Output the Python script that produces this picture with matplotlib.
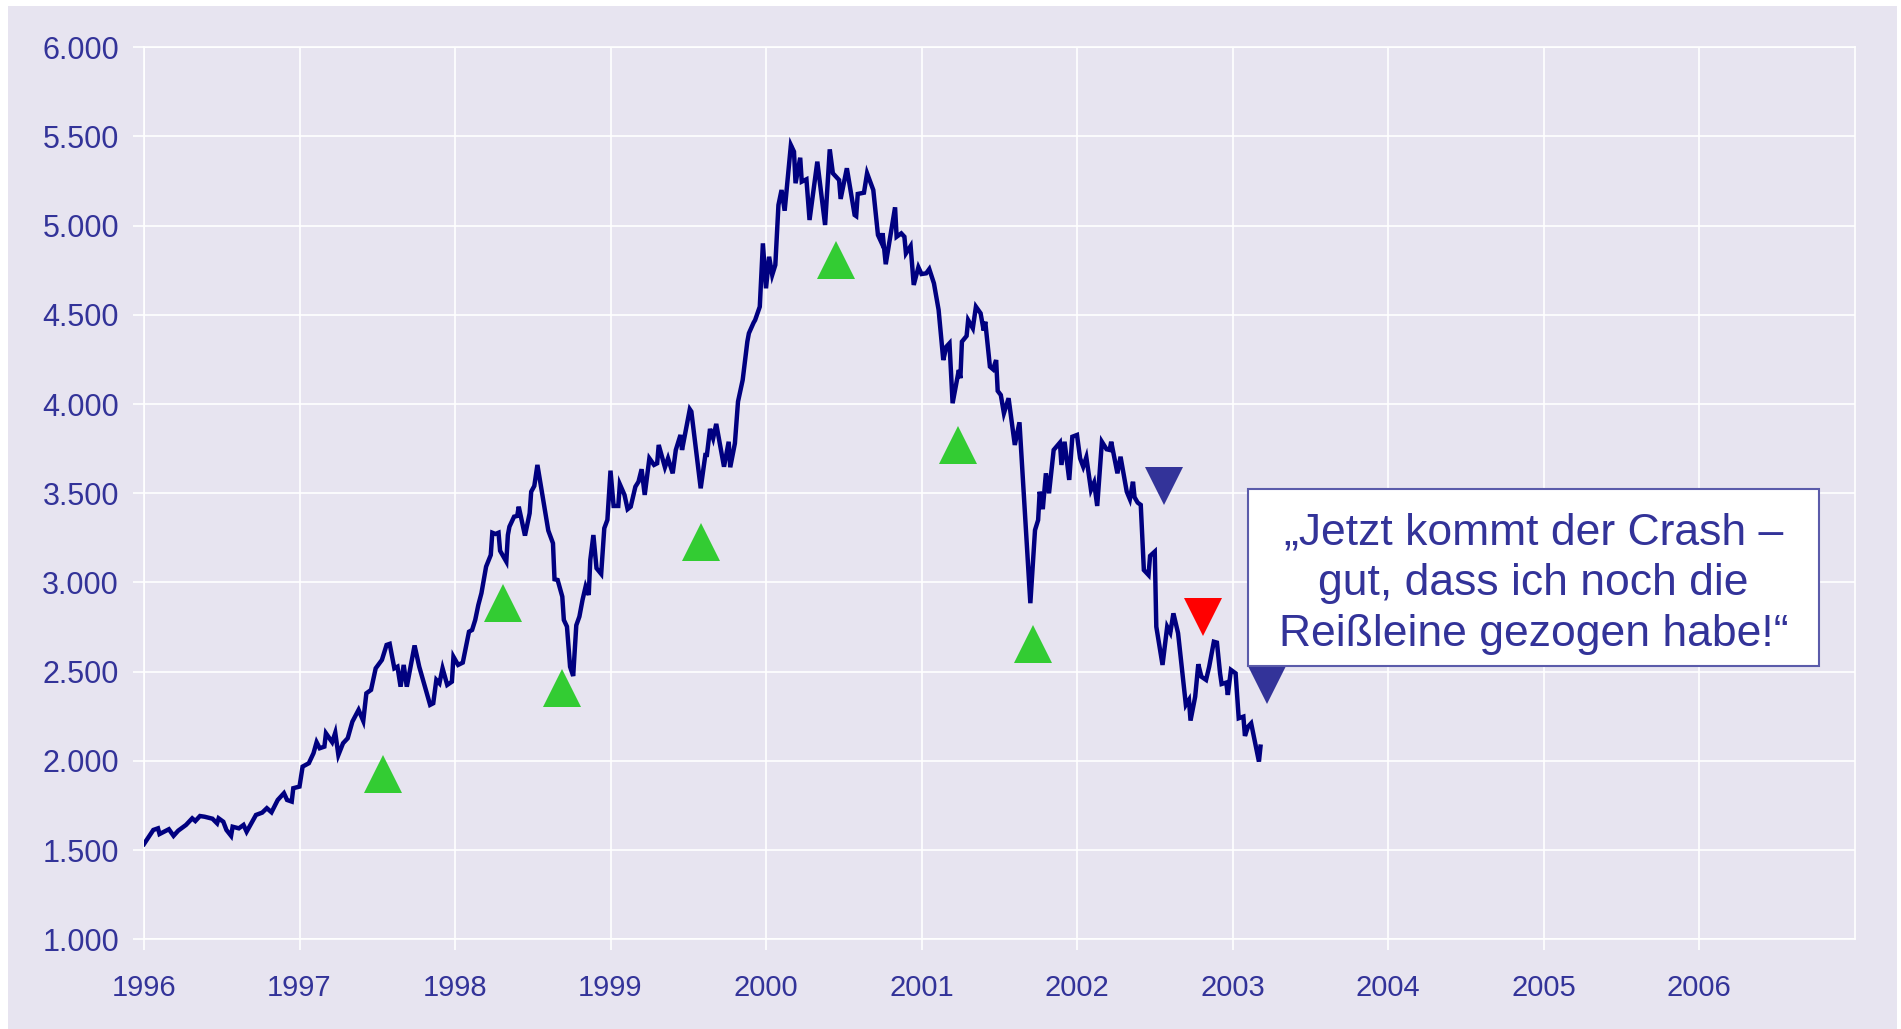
import matplotlib.pyplot as plt
from matplotlib.patches import Rectangle

plt.rcParams['font.family'] = ['Liberation Sans', 'DejaVu Sans']

# Kursverlauf (Jahresbruchteil, Indexstand)
dates = [
    1996.00, 1996.06, 1996.09, 1996.10, 1996.16, 1996.19, 1996.22, 1996.27, 1996.31, 1996.33,
    1996.36, 1996.39, 1996.44, 1996.47, 1996.48, 1996.51, 1996.53, 1996.56, 1996.57, 1996.61,
    1996.64, 1996.66, 1996.69, 1996.72, 1996.76, 1996.79, 1996.82, 1996.86, 1996.90, 1996.92,
    1996.95, 1996.96, 1997.00, 1997.02, 1997.06, 1997.09, 1997.11, 1997.13, 1997.16, 1997.17,
    1997.21, 1997.23, 1997.25, 1997.28, 1997.31, 1997.34, 1997.38, 1997.41, 1997.43, 1997.46,
    1997.49, 1997.53, 1997.56, 1997.58, 1997.61, 1997.63, 1997.65, 1997.67, 1997.69, 1997.74,
    1997.77, 1997.84, 1997.86, 1997.88, 1997.90, 1997.92, 1997.95, 1997.98, 1997.99, 1998.02,
    1998.05, 1998.09, 1998.11, 1998.13, 1998.15, 1998.17, 1998.20, 1998.23, 1998.24, 1998.26,
    1998.28, 1998.29, 1998.33, 1998.34, 1998.35, 1998.38, 1998.40, 1998.41, 1998.45, 1998.48,
    1998.49, 1998.51, 1998.53, 1998.56, 1998.60, 1998.63, 1998.64, 1998.66, 1998.69, 1998.70,
    1998.72, 1998.74, 1998.76, 1998.78, 1998.80, 1998.82, 1998.84, 1998.86, 1998.87, 1998.89,
    1998.91, 1998.94, 1998.96, 1998.98, 1999.00, 1999.02, 1999.05, 1999.06, 1999.09, 1999.11,
    1999.13, 1999.16, 1999.18, 1999.20, 1999.22, 1999.25, 1999.28, 1999.30, 1999.31, 1999.35,
    1999.37, 1999.40, 1999.42, 1999.45, 1999.46, 1999.51, 1999.52, 1999.58, 1999.61, 1999.62,
    1999.64, 1999.66, 1999.68, 1999.73, 1999.76, 1999.77, 1999.80, 1999.82, 1999.85, 1999.88,
    1999.89, 1999.92, 1999.93, 1999.96, 1999.98, 2000.00, 2000.02, 2000.04, 2000.06, 2000.08,
    2000.10, 2000.12, 2000.16, 2000.18, 2000.19, 2000.22, 2000.23, 2000.26, 2000.28, 2000.33,
    2000.38, 2000.41, 2000.43, 2000.47, 2000.48, 2000.52, 2000.57, 2000.58, 2000.59, 2000.63,
    2000.65, 2000.69, 2000.72, 2000.74, 2000.75, 2000.77, 2000.83, 2000.84, 2000.87, 2000.89,
    2000.90, 2000.93, 2000.95, 2000.98, 2001.00, 2001.03, 2001.05, 2001.08, 2001.11, 2001.14,
    2001.16, 2001.18, 2001.20, 2001.24, 2001.25, 2001.26, 2001.29, 2001.30, 2001.33, 2001.35,
    2001.38, 2001.40, 2001.41, 2001.44, 2001.46, 2001.48, 2001.49, 2001.51, 2001.53, 2001.56,
    2001.60, 2001.63, 2001.66, 2001.70, 2001.73, 2001.75, 2001.76, 2001.78, 2001.80, 2001.82,
    2001.85, 2001.89, 2001.90, 2001.92, 2001.95, 2001.97, 2002.00, 2002.02, 2002.04, 2002.06,
    2002.09, 2002.11, 2002.13, 2002.16, 2002.19, 2002.21, 2002.22, 2002.26, 2002.28, 2002.32,
    2002.34, 2002.36, 2002.37, 2002.39, 2002.41, 2002.43, 2002.46, 2002.47, 2002.50, 2002.51,
    2002.55, 2002.58, 2002.60, 2002.62, 2002.65, 2002.70, 2002.72, 2002.73, 2002.76, 2002.78,
    2002.80, 2002.83, 2002.85, 2002.88, 2002.90, 2002.92, 2002.93, 2002.96, 2002.97, 2002.99,
    2003.02, 2003.04, 2003.07, 2003.08, 2003.10, 2003.12, 2003.17, 2003.18,
]
values = [
    1534, 1613, 1622, 1590, 1617, 1580, 1609, 1641, 1678, 1663,
    1691, 1687, 1676, 1650, 1678, 1659, 1613, 1580, 1631, 1622,
    1641, 1603, 1650, 1697, 1710, 1735, 1712, 1781, 1819, 1781,
    1772, 1847, 1856, 1968, 1987, 2043, 2105, 2071, 2080, 2155,
    2105, 2158, 2033, 2099, 2127, 2220, 2286, 2224, 2379, 2398,
    2519, 2566, 2650, 2656, 2519, 2528, 2416, 2538, 2416, 2647,
    2528, 2314, 2323, 2454, 2435, 2519, 2426, 2444, 2584, 2538,
    2551, 2724, 2734, 2790, 2874, 2940, 3089, 3154, 3279, 3272,
    3279, 3178, 3117, 3266, 3313, 3369, 3373, 3425, 3263, 3388,
    3509, 3541, 3659, 3500, 3291, 3220, 3018, 3014, 2921, 2790,
    2753, 2528, 2476, 2760, 2809, 2902, 2977, 2930, 3126, 3266,
    3080, 3048, 3304, 3351, 3627, 3429, 3429, 3551, 3491, 3411,
    3425, 3537, 3565, 3635, 3491, 3696, 3659, 3668, 3771, 3646,
    3696, 3612, 3743, 3827, 3743, 3971, 3958, 3528, 3715, 3715,
    3861, 3808, 3889, 3649, 3789, 3646, 3780, 4014, 4135, 4350,
    4397, 4456, 4471, 4546, 4901, 4649, 4826, 4724, 4780, 5116,
    5200, 5084, 5452, 5415, 5238, 5381, 5247, 5260, 5032, 5359,
    5004, 5428, 5294, 5256, 5150, 5322, 5060, 5054, 5178, 5185,
    5294, 5200, 4948, 4910, 4958, 4784, 5103, 4938, 4957, 4938,
    4845, 4886, 4668, 4767, 4729, 4733, 4757, 4677, 4528, 4247,
    4322, 4341, 4005, 4191, 4145, 4350, 4382, 4471, 4425, 4546,
    4509, 4412, 4462, 4210, 4195, 4247, 4074, 4051, 3949, 4033,
    3771, 3898, 3463, 2884, 3294, 3350, 3509, 3411, 3612, 3500,
    3743, 3784, 3659, 3789, 3575, 3817, 3827, 3696, 3649, 3702,
    3519, 3560, 3429, 3789, 3747, 3743, 3789, 3612, 3705, 3509,
    3467, 3565, 3478, 3448, 3435, 3070, 3042, 3149, 3173, 2752,
    2538, 2752, 2719, 2827, 2716, 2314, 2342, 2226, 2360, 2542,
    2472, 2454, 2528, 2668, 2663, 2491, 2431, 2439, 2370, 2510,
    2491, 2239, 2248, 2140, 2192, 2211, 1996, 2080,
]

# Signale
buy_dates = [1997.535, 1998.31, 1998.69, 1999.58, 2000.45, 2001.235, 2001.715]
buy_values = [1925, 2887, 2407, 3228, 4808, 3771, 2656]
sell_dates = [2002.56, 2003.22]
sell_values = [3542, 2428]
crash_date = [2002.81]
crash_value = [2807]

years = list(range(1996, 2007))
yticks = list(range(1000, 6001, 500))
ytick_labels = [f"{v // 1000}.{v % 1000:03d}" for v in yticks]

quote = "„Jetzt kommt der Crash –\ngut, dass ich noch die\nReißleine gezogen habe!“"

TXT = "#333399"
BG = "#E7E4F0"

fig = plt.figure(figsize=(19.01, 10.29), dpi=100, facecolor="white")
fig.patches.append(Rectangle((8 / 1901, 0), 1 - 12 / 1901, 1 - 6 / 1029,
                             transform=fig.transFigure, facecolor=BG,
                             edgecolor="none", zorder=-10))
ax = fig.add_axes([144 / 1901, 1 - 939.3 / 1029, 1710.5 / 1901, 892 / 1029])
ax.set_facecolor(BG)

ax.plot(dates, values, color="#000080", linewidth=3.2, zorder=3,
        solid_joinstyle="miter")
ax.plot(buy_dates, buy_values, linestyle="none", marker="^", markersize=28,
        color="#33CC33", markeredgewidth=0, zorder=4)
ax.plot(sell_dates, sell_values, linestyle="none", marker="v", markersize=28,
        color="#333399", markeredgewidth=0, zorder=4)
ax.plot(crash_date, crash_value, linestyle="none", marker="v", markersize=28,
        color="#FF0000", markeredgewidth=0, zorder=4)

# Sprechblase
bx0, bx1, by0, by1 = 2003.10, 2006.77, 2532, 3524
ax.add_patch(Rectangle((bx0, by0), bx1 - bx0, by1 - by0, facecolor="white",
                       edgecolor="#5B5BAA", linewidth=1.5, zorder=6))
ax.text((bx0 + bx1) / 2, (by0 + by1) / 2 - 35, quote, ha="center", va="center",
        fontsize=32, color=TXT, linespacing=1.32, zorder=7)

ax.set_xlim(1996, 2007)
ax.set_ylim(1000, 6000)
ax.set_xticks(years)
ax.set_xticklabels([str(y) for y in years])
ax.set_yticks(yticks)
ax.set_yticklabels(ytick_labels)
ax.grid(True, color="white", linewidth=1.2)
ax.set_axisbelow(True)
for s in ax.spines.values():
    s.set_color("white")
    s.set_linewidth(1.2)
ax.tick_params(axis="both", colors="white", length=8, width=1.2)
ax.tick_params(axis="y", labelcolor=TXT, labelsize=22, pad=10)
ax.tick_params(axis="x", labelcolor=TXT, labelsize=21, pad=17)

fig.savefig("out.png", dpi=100, facecolor="white")
